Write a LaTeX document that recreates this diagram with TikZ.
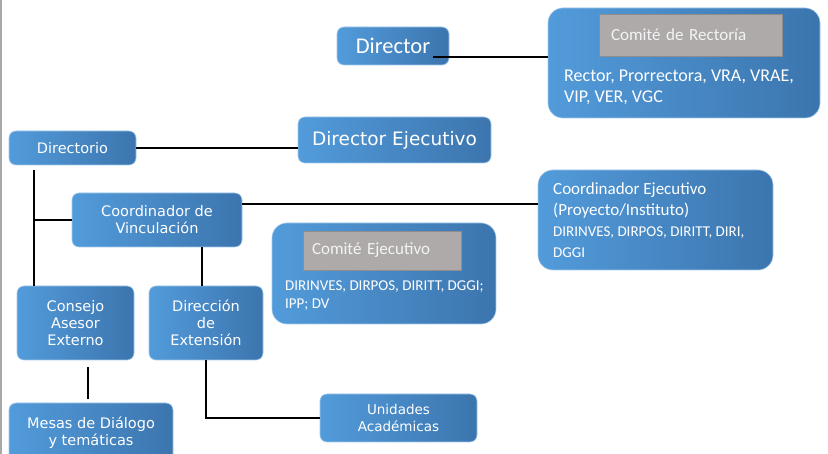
\documentclass[tikz,border=0pt]{standalone}
\usepackage{fontspec}
\setmainfont{DejaVu Sans}
\newfontfamily\calibfont{Carlito}
\definecolor{boxlight}{HTML}{529BDA}
\definecolor{boxdark}{HTML}{3C75AE}
\definecolor{comgray}{HTML}{ADAAA9}
\definecolor{comedge}{HTML}{8F8D8D}
\definecolor{comtext}{HTML}{F4F4F4}
\definecolor{pageedge}{HTML}{A8A8A8}
\newcommand{\fsz}[2]{\fontsize{#1}{#2}\selectfont}
\tikzset{
  unit/.style={rounded corners=7pt, left color=boxlight, right color=boxdark,
    draw=boxlight!55!white, line width=0.6pt, text=white, align=center,
    inner sep=0pt, font=\fsz{14.5}{17}},
  panel/.style={unit, rounded corners=15pt},
  comite/.style={fill=comgray, draw=comedge, line width=0.8pt, text=comtext,
    align=left, inner ysep=0pt, font=\calibfont\fsz{17}{20}},
  plain/.style={anchor=west, inner sep=0pt, align=left, text=white},
  link/.style={line width=1.6pt, black},
}

\begin{document}
\begin{tikzpicture}[x=1pt,y=-1pt]
\useasboundingbox (0,0) rectangle (828,454);
\draw[pageedge, line width=2pt] (1,0) -- (1,454);

% top: director and rectoria
\node[unit, minimum width=112pt, minimum height=38pt, font=\calibfont\fsz{22.5}{26}] (dir) at (393,46) {Director};
\node[panel, minimum width=272pt, minimum height=110pt] (rect) at (684,63) {};
\node[comite, text width=159pt, inner xsep=12pt, minimum height=42pt] (crect) at (690.5,35) {Comité de Rectoría};
\node[plain, font=\calibfont\fsz{18}{21}] (rlist) at (564,87) {Rector, Prorrectora, VRA, VRAE,\\VIP, VER, VGC};
\draw[link] ([xshift=-16pt,yshift=-11pt]dir.east) -- ([yshift=-11pt]dir.east -| rect.west);

% directorio and director ejecutivo
\node[unit, minimum width=127pt, minimum height=34pt] (dtorio) at (72.5,148) {Directorio};
\node[unit, minimum width=193pt, minimum height=46pt, font=\fsz{18.5}{22}] (dej) at (394.5,140) {Director Ejecutivo};
\draw[link] (dtorio.east) -- (dtorio.east -| dej.west);

% coordinacion
\node[unit, minimum width=170pt, minimum height=54pt] (cvin) at (157,220) {Coordinador de\\Vinculación};
\node[panel, minimum width=235pt, minimum height=100pt] (cej) at (655.5,220) {};
\node[plain, font=\calibfont\fsz{17}{21}] (cejtxt) at (553,220) {Coordinador Ejecutivo\\(Proyecto/Instituto)\\\fsz{15}{19}DIRINVES, DIRPOS, DIRITT, DIRI,\\\fsz{15}{19}DGGI};
\draw[link] ([yshift=16pt]cvin.east) -- ([yshift=16pt]cvin.east -| cej.west);

% comite ejecutivo
\node[panel, minimum width=224pt, minimum height=101pt] (cejec) at (384,273.5) {};
\node[comite, text width=140pt, inner xsep=9pt, minimum height=39pt] (ccej) at (382,250.5) {Comité Ejecutivo};
\node[plain, font=\calibfont\fsz{15}{18}] (cejlist) at (285,296) {DIRINVES, DIRPOS, DIRITT, DGGI;\\IPP; DV};

% lower units
\node[unit, minimum width=117pt, minimum height=74pt] (cae) at (75.5,323) {Consejo\\Asesor\\Externo};
\node[unit, minimum width=114pt, minimum height=74pt] (dext) at (206,323) {Dirección\\de\\Extensión};
\node[unit, minimum width=164pt, minimum height=60pt] (mesas) at (91,433) {Mesas de Diálogo\\y temáticas};
\node[unit, minimum width=157pt, minimum height=48pt, font=\fsz{13.5}{17}] (uac) at (398.5,418) {Unidades\\Académicas};

\coordinate (trunk) at (34,170);
\draw[link] (trunk) -- (trunk |- cae.north);
\draw[link] (cvin.west -| trunk) -- (cvin.west);
\draw[link] ([xshift=-4pt]dext.north) -- ([xshift=-4pt]dext.north |- cvin.south);
\draw[link, shorten <=7pt, shorten >=4pt] ([xshift=12.5pt]cae.south) -- ([xshift=12.5pt]cae.south |- mesas.north);
\draw[link] (dext.south) |- (uac.west);
\end{tikzpicture}
\end{document}
